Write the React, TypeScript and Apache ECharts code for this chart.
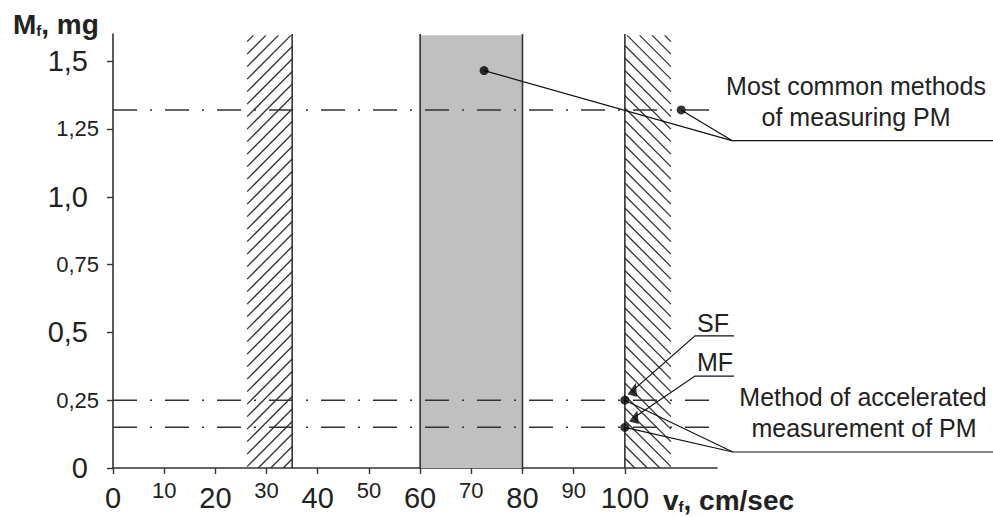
import React, { useEffect, useRef } from 'react';
import * as echarts from 'echarts';

const FONT = '"Liberation Sans", Arial, Helvetica, sans-serif';
const INK = '#222';
const AXIS = '#333';

// ---- axes ----
const xTicks = [0, 10, 20, 30, 40, 50, 60, 70, 80, 90, 100];
const xTickLabels = ['0', '10', '20', '30', '40', '50', '60', '70', '80', '90', '100'];
const xBigLabels = [0, 20, 40, 60, 80, 100];
const yTicks = [0, 0.25, 0.5, 0.75, 1, 1.25, 1.5];
const yTickLabels = ['0', '0,25', '0,5', '0,75', '1,0', '1,25', '1,5'];
const yBigLabels = [0, 0.5, 1, 1.5];
const xMax = 118;
const yMax = 1.6;

// ---- horizontal dash-dot levels ----
const dashDotLevels = [1.32, 0.25, 0.15];
const dashDotEnds = [117, 118.5, 118.5];

// ---- bands (x ranges) ----
const grayBand = [60, 80];
const hatchLeft = [26.2, 35];
const hatchRight = [100, 109];
const bandTop = 1.595;
const boundaryX = [35, 60, 80, 100];

// ---- points ----
const measuredPoints = [
  [72.5, 1.465],
  [111, 1.32],
  [100, 0.25],
  [100, 0.15],
];
const arrowHeads = [
  [101.8, 0.29],
  [102.1, 0.19],
];

// ---- leader lines (data coords) ----
const leaderCommon1 = [[72.5, 1.465], [120.9, 1.207], [172, 1.207]];
const leaderCommon2 = [[111, 1.32], [120.9, 1.207]];
const leaderSF = [[101.8, 0.29], [113.7, 0.487], [121.3, 0.487]];
const leaderMF = [[102.1, 0.19], [113.7, 0.339], [121.3, 0.339]];
const leaderAccel1 = [[100, 0.25], [121.1, 0.059], [172, 0.059]];
const leaderAccel2 = [[100, 0.15], [121.1, 0.059]];
const leaders = [leaderCommon1, leaderCommon2, leaderSF, leaderMF, leaderAccel1, leaderAccel2];

// ---- annotation texts ----
const noteCommon = ['Most common methods', 'of measuring PM'];
const noteAccel = ['Method of accelerated', 'measurement of PM'];
const noteSF = 'SF';
const noteMF = 'MF';

export default function App() {
  const ref = useRef<HTMLDivElement>(null);

  useEffect(() => {
    if (!ref.current) return;
    const chart = echarts.init(ref.current, null, { renderer: 'svg' });

    const bandData = [
      [grayBand[0], grayBand[1], bandTop, 0],
      [hatchLeft[0], hatchLeft[1], bandTop, 1],
      [hatchRight[0], hatchRight[1], bandTop, 2],
      ...boundaryX.map((x) => [x, x, yMax, 3]),
    ];

    const renderBand = (params: any, api: any) => {
      const x0 = api.value(0);
      const x1 = api.value(1);
      const top = api.value(2);
      const kind = api.value(3);
      const pA = api.coord([x0, 0]);
      const pB = api.coord([x1, top]);
      const L = pA[0];
      const B = pA[1];
      const R = pB[0];
      const T = pB[1];
      if (kind === 0) {
        return {
          type: 'rect',
          shape: { x: L, y: T, width: R - L, height: B - T },
          style: { fill: '#c0c0c0' },
        };
      }
      if (kind === 3) {
        return {
          type: 'line',
          shape: { x1: L, y1: B + 0.5, x2: L, y2: T },
          style: { stroke: AXIS, lineWidth: 1.6 },
        };
      }
      const s = 12.5;
      const children: any[] = [];
      const st = { stroke: '#333', lineWidth: 1.3 };
      if (kind === 1) {
        for (let c = L + T + s / 2; c < R + B; c += s) {
          const xa = Math.max(L, c - B);
          const xb = Math.min(R, c - T);
          if (xb > xa) children.push({ type: 'line', shape: { x1: xa, y1: c - xa, x2: xb, y2: c - xb }, style: st });
        }
      } else {
        for (let c = T - R + s / 2; c < B - L; c += s) {
          const xa = Math.max(L, T - c);
          const xb = Math.min(R, B - c);
          if (xb > xa) children.push({ type: 'line', shape: { x1: xa, y1: xa + c, x2: xb, y2: xb + c }, style: st });
        }
      }
      return { type: 'group', children };
    };

    const text = (t: string, x: number, y: number, align: string, size: number) => ({
      type: 'text',
      x,
      y,
      z: 10,
      silent: true,
      style: {
        text: t,
        fill: INK,
        font: `${size}px ${FONT}`,
        textAlign: align,
        textVerticalAlign: 'middle',
      },
    });

    const subTitle = (main: string, sub: string, rest: string, x: number, y: number, size: number) => ({
      type: 'text',
      x,
      y,
      z: 10,
      silent: true,
      style: {
        text: `{b|${main}}{s|${sub}}{b|${rest}}`,
        textAlign: 'left',
        textVerticalAlign: 'middle',
        rich: {
          b: { fontSize: size, fontWeight: 'bold', fontFamily: FONT, fill: INK, color: INK, lineHeight: size },
          s: { fontSize: 15, fontWeight: 'bold', fontFamily: FONT, fill: INK, color: INK, lineHeight: 15, verticalAlign: 'bottom' },
        },
      },
    });

    const option: any = {
      animation: false,
      backgroundColor: '#fff',
      grid: { left: 113, top: 34, width: 604, height: 434, containLabel: false },
      xAxis: {
        type: 'value',
        min: 0,
        max: xMax,
        splitLine: { show: false },
        axisLine: { show: true, lineStyle: { color: AXIS, width: 1.6 } },
        axisTick: { show: true, length: 6, customValues: xTicks, lineStyle: { color: AXIS, width: 1.4 } },
        axisLabel: {
          customValues: xTicks,
          margin: 10,
          formatter: (v: number) => {
            const i = xTicks.indexOf(v);
            const lbl = i >= 0 ? xTickLabels[i] : '';
            return xBigLabels.indexOf(v) >= 0 ? `{big|${lbl}}` : `{small|${lbl}}`;
          },
          rich: {
            big: { fontSize: 29, lineHeight: 28, fontFamily: FONT, color: INK, padding: [12, 0, 0, 0] },
            small: { fontSize: 22, lineHeight: 22, fontFamily: FONT, color: INK, padding: [3, 0, 0, 0] },
          },
        },
      },
      yAxis: {
        type: 'value',
        min: 0,
        max: yMax,
        interval: 0.25,
        splitLine: { show: false },
        axisLine: { show: true, lineStyle: { color: AXIS, width: 1.6 } },
        axisTick: { show: true, length: 6, customValues: yTicks, lineStyle: { color: AXIS, width: 1.4 } },
        axisLabel: {
          customValues: yTicks,
          margin: 14,
          formatter: (v: number) => {
            const i = yTicks.findIndex((t) => Math.abs(t - v) < 1e-9);
            const lbl = i >= 0 ? yTickLabels[i] : '';
            const big = yBigLabels.some((t) => Math.abs(t - v) < 1e-9);
            return big ? `{big|${lbl}}` : `{small|${lbl}}`;
          },
          rich: {
            big: { fontSize: 29, lineHeight: 30, fontFamily: FONT, color: INK, padding: [0, 11, 0, 0] },
            small: { fontSize: 22, lineHeight: 24, fontFamily: FONT, color: INK },
          },
        },
      },
      series: [
        {
          type: 'custom',
          data: bandData,
          encode: { x: [0, 1], y: 2 },
          renderItem: renderBand,
          silent: true,
          z: 1,
        },
        ...dashDotLevels.map((lvl, i) => ({
          type: 'line',
          data: [[0, lvl], [dashDotEnds[i], lvl]],
          symbol: 'none',
          silent: true,
          z: 3,
          lineStyle: { color: '#333', width: 1.5, type: [24, 13, 2, 13] },
        })),
        {
          type: 'scatter',
          data: measuredPoints,
          symbol: 'circle',
          symbolSize: 9,
          itemStyle: { color: '#000' },
          silent: true,
          z: 6,
        },
        {
          type: 'scatter',
          data: arrowHeads,
          symbol: 'triangle',
          symbolSize: [10, 13],
          symbolRotate: -15,
          itemStyle: { color: '#000' },
          silent: true,
          z: 6,
        },
      ],
    };

    chart.setOption(option);

    const toPx = (p: number[]) => chart.convertToPixel({ gridIndex: 0 }, p) as number[];
    const leaderGraphics = leaders.map((l) => ({
      type: 'polyline',
      z: 5,
      silent: true,
      shape: { points: l.map(toPx) },
      style: { stroke: '#111', lineWidth: 1.2, fill: null },
    }));

    chart.setOption({
      graphic: [
        ...leaderGraphics,
        subTitle('M', 'f', ', mg', 13, 24, 28),
        subTitle('v', 'f', ', cm/sec', 663, 500, 28),
        text(noteCommon[0], 856, 86, 'center', 25),
        text(noteCommon[1], 856, 117, 'center', 25),
        text(noteSF, 697, 323, 'left', 25),
        text(noteMF, 697, 362, 'left', 25),
        text(noteAccel[0], 863, 397, 'center', 25),
        text(noteAccel[1], 864, 428, 'center', 25),
      ],
    });

    return () => chart.dispose();
  }, []);

  return (
    <div
      ref={ref}
      style={{ position: 'absolute', left: 0, top: 0, width: 993, height: 517, background: '#fff' }}
    />
  );
}
